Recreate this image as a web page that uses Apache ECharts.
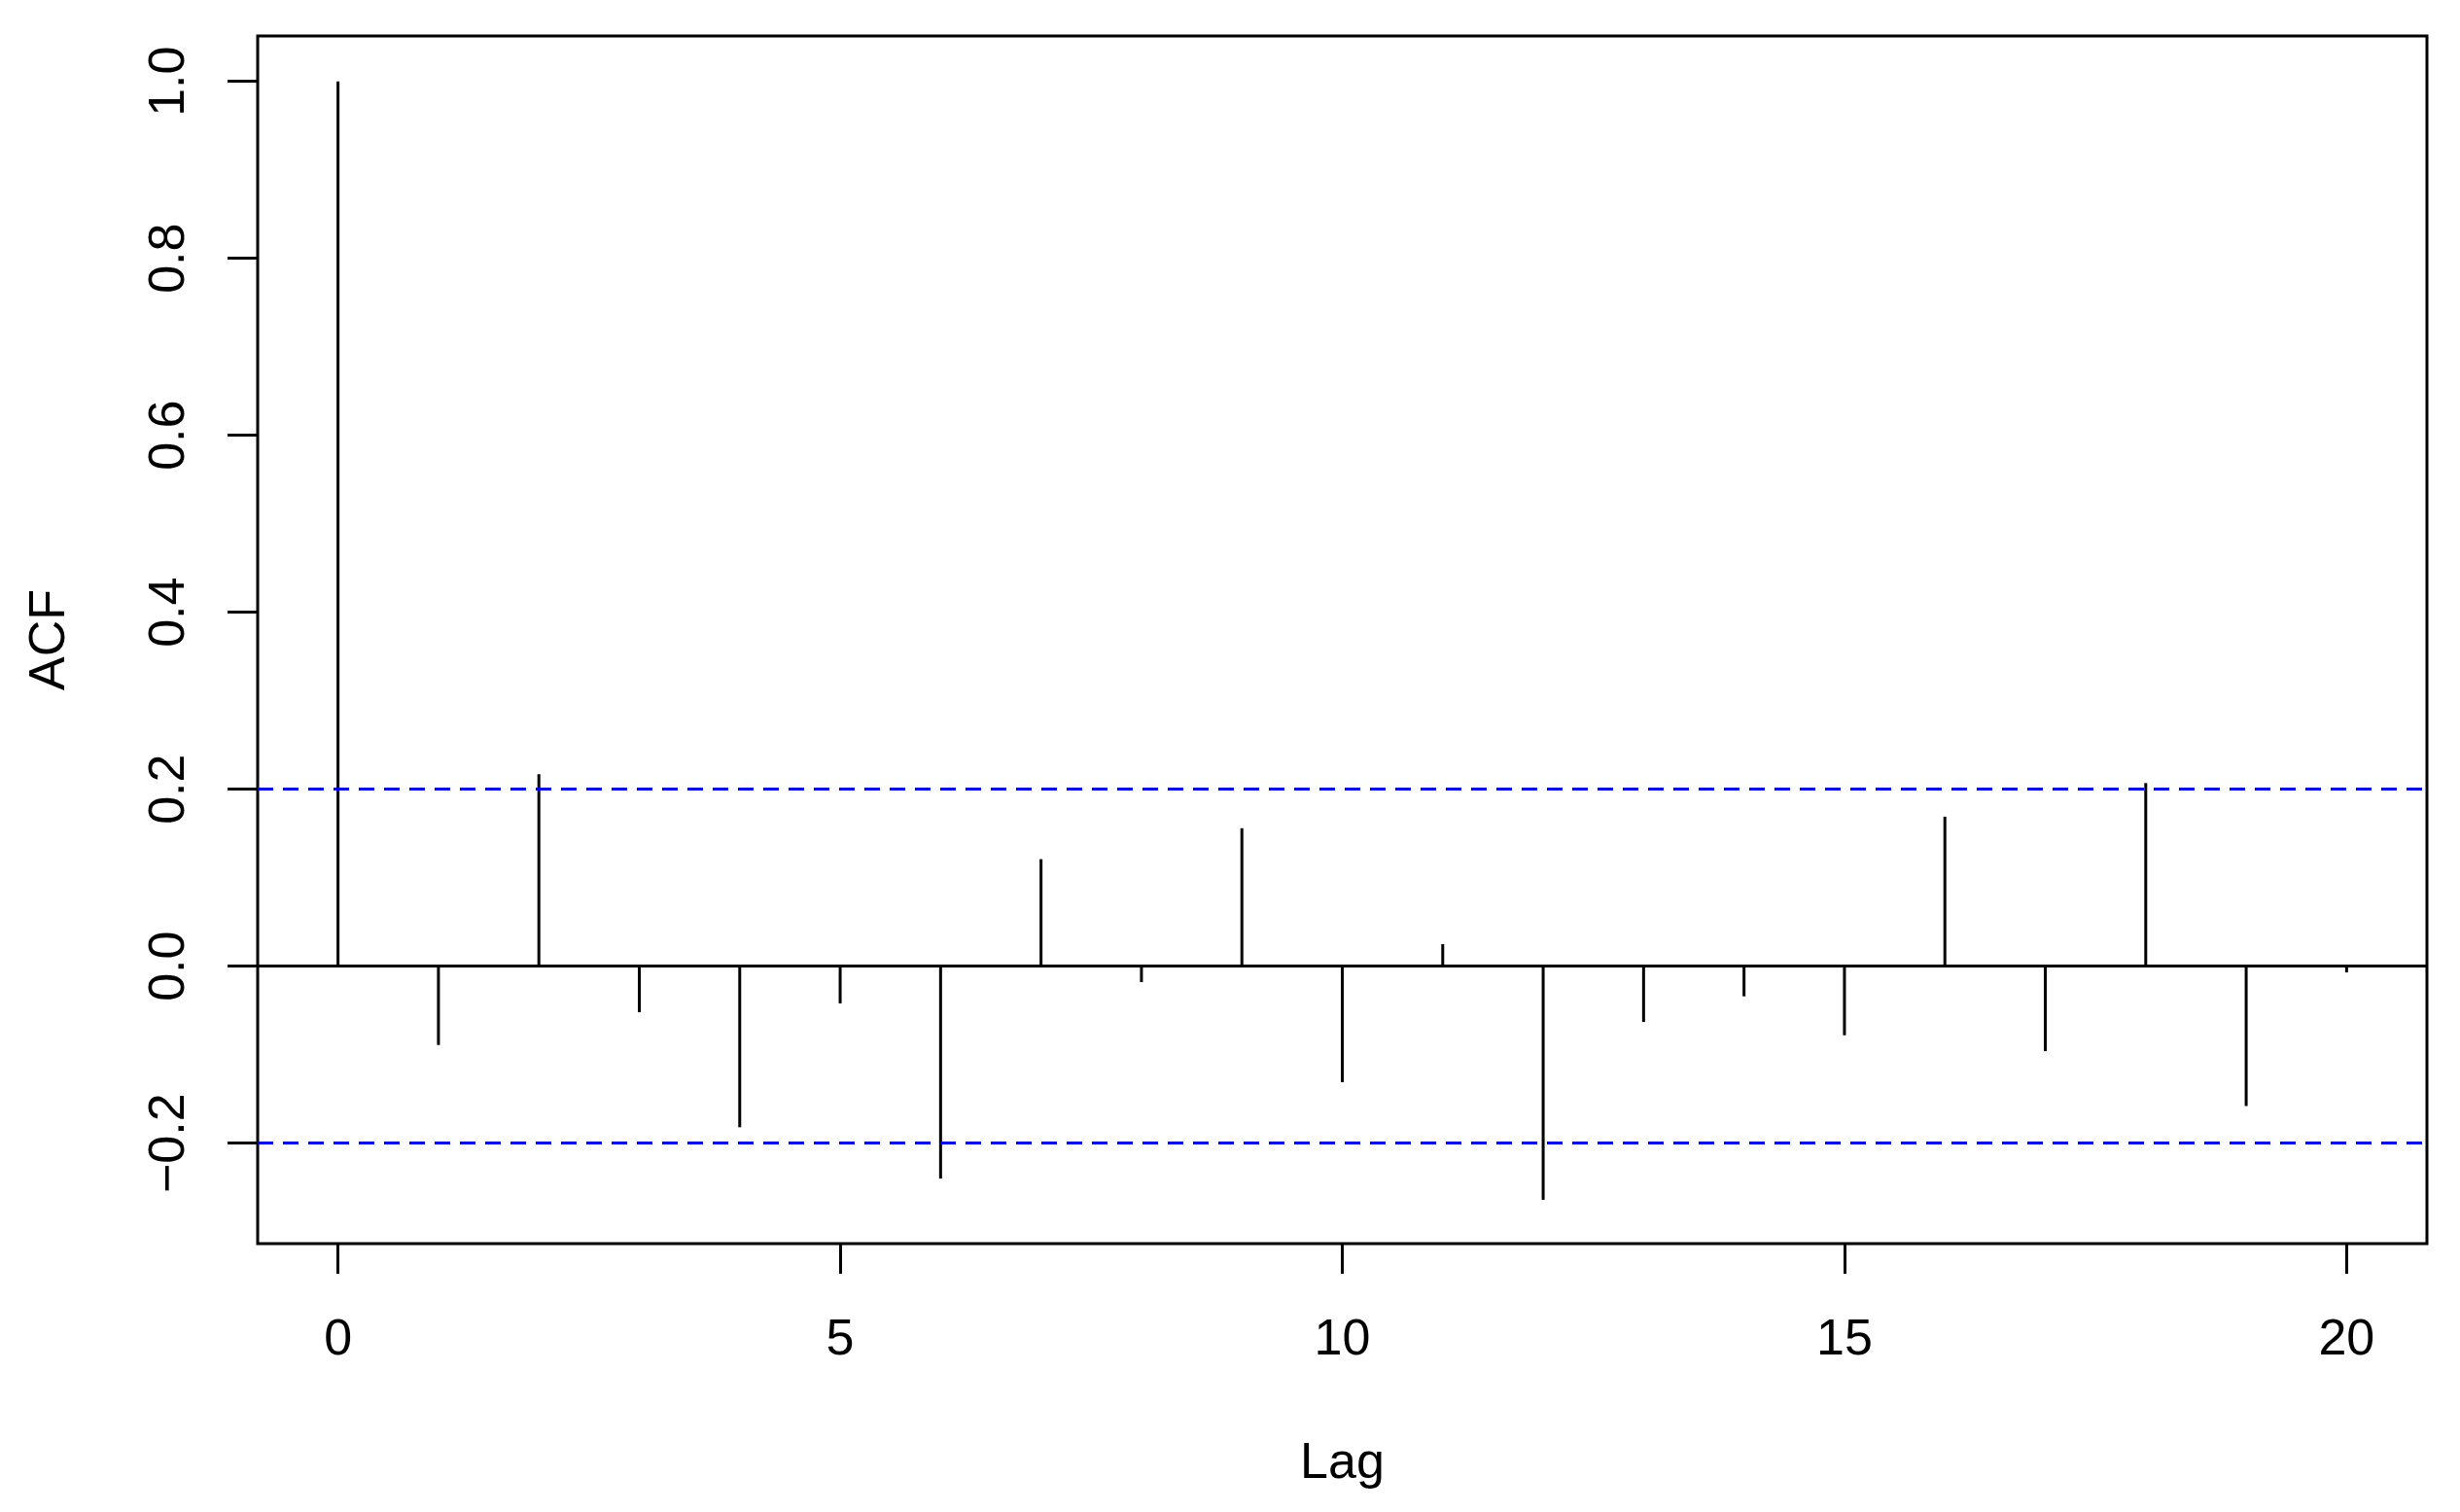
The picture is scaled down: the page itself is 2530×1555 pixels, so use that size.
<!DOCTYPE html>
<html>
<head>
<meta charset="utf-8">
<script src="https://cdn.jsdelivr.net/npm/echarts@6/dist/echarts.min.js"></script>
<style>
html,body{margin:0;padding:0;background:#fff;}
#chart{width:2530px;height:1555px;}
#note{position:absolute;left:0;top:0;width:1px;height:1px;overflow:hidden;color:#fff;font-size:1px;}
</style>
</head>
<body>
<div id="chart"></div>
<div id="note"></div>
<script>
// Data
const lags = [0,1,2,3,4,5,6,7,8,9,10,11,12,13,14,15,16,17,18,19,20];
const acfValues = [1.0,-0.089,0.217,-0.052,-0.182,-0.042,-0.240,0.121,-0.018,0.156,-0.131,0.025,-0.264,-0.063,-0.034,-0.078,0.169,-0.096,0.207,-0.158,-0.007];
const confLimits = [0.197,-0.197];
const xTicks = [0,5,10,15,20];
const yTicks = [-0.2,0.0,0.2,0.4,0.6,0.8,1.0];

const FONT = '"Liberation Sans", Arial, sans-serif';
const X_MIN = -0.8, X_MAX = 20.8, Y_MIN = -0.3135, Y_MAX = 1.0513;
const stems = lags.map((l,i)=>[l, acfValues[i]]);

const chart = echarts.init(document.getElementById('chart'));
chart.setOption({
  animation:false,
  backgroundColor:'#fff',
  grid:{left:265,right:34,top:37,bottom:276,show:true,borderColor:'#000',borderWidth:3,backgroundColor:'transparent'},
  xAxis:{
    type:'value', min:X_MIN, max:X_MAX,
    name:'Lag', nameLocation:'middle', nameGap:201,
    nameTextStyle:{fontFamily:FONT,fontSize:52,color:'#000'},
    axisLine:{show:false,onZero:false},
    splitLine:{show:false},
    axisTick:{show:true,length:31,lineStyle:{color:'#000',width:3},customValues:xTicks},
    axisLabel:{fontFamily:FONT,fontSize:52,color:'#000',margin:100,verticalAlign:'middle',customValues:xTicks,
      formatter:v=>String(v)}
  },
  yAxis:{
    type:'value', min:Y_MIN, max:Y_MAX,
    name:'ACF', nameLocation:'middle', nameGap:187, nameRotate:90,
    nameTextStyle:{fontFamily:FONT,fontSize:52,color:'#000'},
    axisLine:{show:false,onZero:false},
    splitLine:{show:false},
    axisTick:{show:true,length:31,lineStyle:{color:'#000001',width:3},customValues:yTicks},
    axisLabel:{fontFamily:FONT,fontSize:52,color:'#000',margin:64,rotate:90,customValues:yTicks,
      formatter:v=>{const s=Math.abs(v).toFixed(1);return (v<-1e-9?'\u2212':'')+s;}}
  },
  series:[
    {
      type:'custom',
      data:stems,
      silent:true,
      renderItem:function(params,api){
        const p0 = api.coord([api.value(0),0]);
        const p1 = api.coord([api.value(0),api.value(1)]);
        return {type:'line',shape:{x1:p0[0],y1:p0[1],x2:p1[0],y2:p1[1]},style:{stroke:'#000',lineWidth:3}};
      },
      markLine:{
        silent:true,symbol:['none','none'],label:{show:false},
        data:[
          {yAxis:0,lineStyle:{color:'#000',width:3,type:'solid'}},
          {yAxis:confLimits[0],lineStyle:{color:'#0000ff',width:3,type:[16,10]}},
          {yAxis:confLimits[1],lineStyle:{color:'#0000ff',width:3,type:[16,10]}}
        ]
      }
    }
  ]
});
setTimeout(function(){
  chart.getZr().refreshImmediately();
  document.getElementById('note').textContent = 'ready';
}, 300);
</script>
</body>
</html>
